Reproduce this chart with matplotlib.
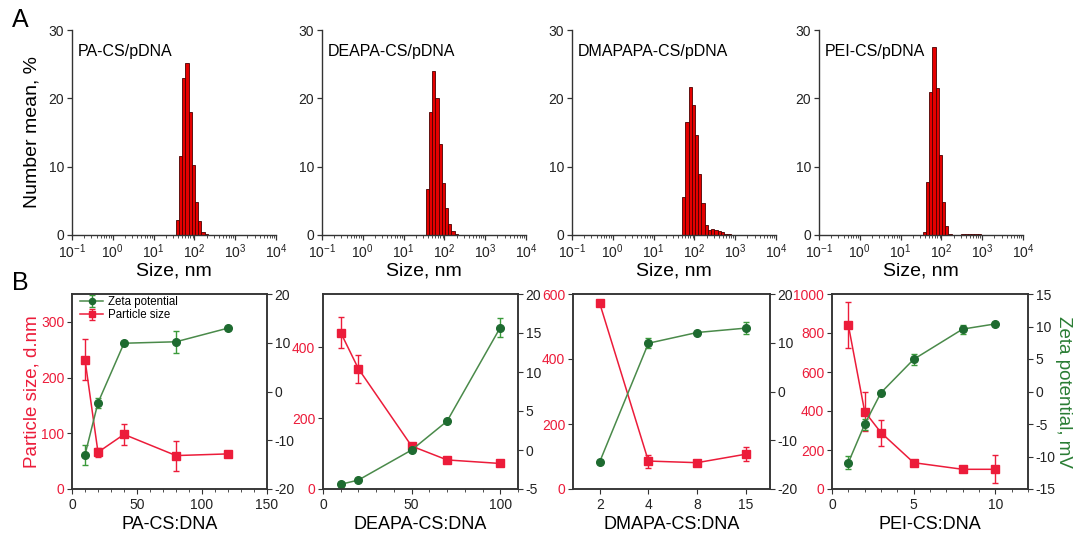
import matplotlib
matplotlib.use('Agg')
import matplotlib.pyplot as plt
import numpy as np
from matplotlib.ticker import MultipleLocator, FixedLocator, LogLocator, NullFormatter

plt.rcParams['font.family'] = ['Liberation Sans', 'DejaVu Sans']
plt.rcParams['mathtext.fontset'] = 'custom'
plt.rcParams['mathtext.rm'] = 'Liberation Sans'
plt.rcParams['mathtext.default'] = 'regular'
plt.rcParams['axes.unicode_minus'] = False

# ---- data: size distributions (A) ----
size_nm = [38, 45.6, 54.7, 65.7, 78.8, 94.6, 113.5, 136.2, 163.4, 196, 235, 282,
           339, 406, 488, 585, 702, 843]
hist_titles = ['PA-CS/pDNA', 'DEAPA-CS/pDNA', 'DMAPAPA-CS/pDNA', 'PEI-CS/pDNA']
hist_pa = [2.2, 11.6, 23.0, 25.1, 18.0, 10.2, 4.9, 2.0, 0.5, 0.1, 0, 0, 0, 0, 0, 0, 0, 0]
hist_deapa = [6.7, 18.0, 24.0, 20.0, 13.3, 7.6, 3.9, 1.6, 0.6, 0.2, 0, 0, 0, 0, 0, 0, 0, 0]
hist_dmapapa = [0, 0, 5.5, 16.5, 21.7, 19.0, 14.6, 9.0, 4.7, 1.5, 0.8, 0.9, 0.8, 0.6, 0.4, 0.2, 0.1, 0]
hist_pei = [0.5, 7.7, 21.0, 27.5, 21.5, 11.7, 4.8, 1.3, 0.2, 0, 0, 0, 0.1, 0.2, 0.2, 0.2, 0.15, 0.1]

# ---- data: particle size / zeta potential (B) ----
pa_x = [10, 20, 40, 80, 120]
pa_size = [232, 66, 98, 60, 63]
pa_size_err = [37, 8, 19, 27, 3]
pa_zeta = [-13.0, -2.3, 9.9, 10.2, 13.0]
pa_zeta_err = [2.0, 1.0, 0.3, 2.2, 0.3]

deapa_x = [10, 20, 50, 70, 100]
deapa_size = [441, 339, 121, 82, 72]
deapa_size_err = [43, 40, 10, 5, 4]
deapa_zeta = [-4.4, -3.85, 0.0, 3.7, 15.7]
deapa_zeta_err = [0.3, 0.3, 0.3, 0.3, 1.2]

dmapa_cat = ['2', '4', '8', '15']
dmapa_size = [571, 86, 81, 107]
dmapa_size_err = [8, 20, 5, 22]
dmapa_zeta = [-14.4, 9.9, 12.1, 13.0]
dmapa_zeta_err = [0.4, 1.0, 0.4, 1.2]

pei_x = [1, 2, 3, 5, 8, 10]
pei_size = [841, 397, 289, 135, 101, 101]
pei_size_err = [120, 98, 66, 10, 5, 72]
pei_zeta = [-10.95, -5.05, -0.18, 4.95, 9.6, 10.4]
pei_zeta_err = [1.0, 0.8, 0.3, 0.8, 0.7, 0.3]

RED = '#ec1c3a'
GREEN = '#1e6b30'
GLINE = '#4a8a4a'
AXC = '#333333'

W, H = 1081, 538
fig = plt.figure(figsize=(W / 100, H / 100), dpi=100)


def frac(x0, y0, x1, y1):
    return [x0 / W, 1 - y1 / H, (x1 - x0) / W, (y1 - y0) / H]


# ---- row A ----
top_lefts = [72, 322, 572, 819]
hists = [hist_pa, hist_deapa, hist_dmapapa, hist_pei]
r = 1.2
for i, (x0, h, t) in enumerate(zip(top_lefts, hists, hist_titles)):
    ax = fig.add_axes(frac(x0, 30, x0 + 204, 235))
    c = np.array(size_nm)
    left = c / np.sqrt(r)
    ax.bar(left, h, width=left * (r - 1), align='edge', color='#e50000',
           edgecolor='#4a0000', linewidth=0.6)
    ax.set_xscale('log')
    ax.set_xlim(0.1, 1e4)
    ax.set_ylim(0, 30)
    ax.set_yticks([0, 10, 20, 30])
    ax.xaxis.set_major_locator(FixedLocator([0.1, 1, 10, 100, 1000, 10000]))
    ax.set_xticklabels(['$10^{-1}$', '$10^{0}$', '$10^{1}$', '$10^{2}$', '$10^{3}$', '$10^{4}$'])
    ax.xaxis.set_minor_locator(LogLocator(base=10, subs=np.arange(2, 10), numticks=20))
    ax.xaxis.set_minor_formatter(NullFormatter())
    for s in ['top', 'right']:
        ax.spines[s].set_visible(False)
    for s in ['left', 'bottom']:
        ax.spines[s].set_color(AXC)
        ax.spines[s].set_linewidth(1.0)
    ax.tick_params(which='major', length=3.5, width=0.9, color=AXC, labelsize=10,
                   labelcolor='#222222', pad=2)
    ax.tick_params(which='minor', length=2, width=0.6, color=AXC)
    ax.text(0.03, 0.93, t, transform=ax.transAxes, fontsize=11.5, va='top', ha='left')
    ax.set_xlabel('Size, nm', fontsize=14, labelpad=1)
    if i == 0:
        ax.set_ylabel('Number mean, %', fontsize=14, labelpad=6)

fig.text(12 / W, 1 - 20 / H, 'A', fontsize=18, va='center', ha='left')
fig.text(12 / W, 1 - 283 / H, 'B', fontsize=18, va='center', ha='left')

# ---- row B ----
bot_boxes = [(72, 267), (323, 518), (573, 770), (832, 1028)]
panels = [
    (pa_x, pa_size, pa_size_err, pa_zeta, pa_zeta_err, 'PA-CS:DNA',
     (0, 150), 50, 10, (0, 350), [0, 100, 200, 300], (-20, 20), [-20, -10, 0, 10, 20]),
    (deapa_x, deapa_size, deapa_size_err, deapa_zeta, deapa_zeta_err, 'DEAPA-CS:DNA',
     (0, 110), 50, 10, (0, 550), [0, 200, 400], (-5, 20), [-5, 0, 5, 10, 15, 20]),
    (list(range(len(dmapa_cat))), dmapa_size, dmapa_size_err, dmapa_zeta, dmapa_zeta_err,
     'DMAPA-CS:DNA', (-0.55, 3.5), None, None, (0, 600), [0, 200, 400, 600],
     (-20, 20), [-20, -10, 0, 10, 20]),
    (pei_x, pei_size, pei_size_err, pei_zeta, pei_zeta_err, 'PEI-CS:DNA',
     (0, 12), 5, 1, (0, 1000), [0, 200, 400, 600, 800, 1000], (-15, 15),
     [-15, -10, -5, 0, 5, 10, 15]),
]

for i, ((x0, x1), p) in enumerate(zip(bot_boxes, panels)):
    x, sz, sze, zt, zte, xl, xlim, maj, mnr, yl, yt, zl, zt_ticks = p
    ax = fig.add_axes(frac(x0, 294, x1, 489))
    ax2 = ax.twinx()
    hs = ax.errorbar(x, sz, yerr=sze, color=RED, marker='s', ms=6, lw=1.1,
                     elinewidth=1, capsize=2.5, capthick=1, label='Particle size')
    hz = ax2.errorbar(x, zt, yerr=zte, color=GLINE, mfc=GREEN, mec=GREEN, ecolor='#3a9a3a',
                      marker='o', ms=5.5, lw=1.1, elinewidth=1, capsize=2.5,
                      capthick=1, label='Zeta potential')
    ax.set_xlim(*xlim)
    ax.set_ylim(*yl)
    ax.set_yticks(yt)
    ax2.set_ylim(*zl)
    ax2.set_yticks(zt_ticks)
    if maj is None:
        ax.set_xticks(x)
        ax.set_xticklabels(dmapa_cat)
    else:
        ax.xaxis.set_major_locator(MultipleLocator(maj))
        ax.xaxis.set_minor_locator(MultipleLocator(mnr))
    for a in (ax, ax2):
        for s in a.spines.values():
            s.set_color(AXC)
            s.set_linewidth(1.1)
    ax.tick_params(axis='y', colors=RED, labelsize=10, length=3.5, pad=2)
    ax.tick_params(axis='y', color=AXC)
    ax.tick_params(axis='x', which='major', labelsize=10, length=3.5, color=AXC,
                   labelcolor='#222222', pad=3)
    ax.tick_params(axis='x', which='minor', length=2, color=AXC)
    ax2.tick_params(axis='y', labelsize=10, length=3.5, color=AXC, labelcolor='#222222',
                    pad=2)
    ax.set_xlabel(xl, fontsize=13, labelpad=3)
    if i == 0:
        ax.set_ylabel('Particle size, d.nm', fontsize=13.5, color=RED, labelpad=0)
        ax.legend([hz, hs], ['Zeta potential', 'Particle size'], loc='upper left',
                  bbox_to_anchor=(0.0, 1.03), frameon=False, fontsize=8.3,
                  handlelength=2.0, handletextpad=0.4, borderaxespad=0.3,
                  labelspacing=0.1, markerscale=0.8)
    if i == 3:
        ax2.set_ylabel('Zeta potential, mV', fontsize=13.5, color='#2a7d34',
                       rotation=270, labelpad=12)

fig.savefig('out.png', dpi=100)
